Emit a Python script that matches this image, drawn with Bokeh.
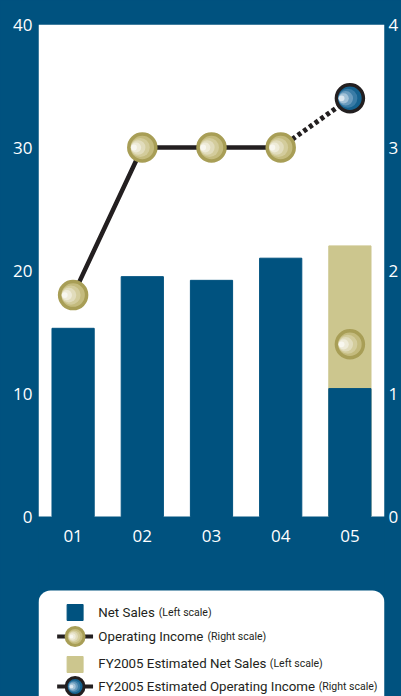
from bokeh.plotting import figure
from bokeh.models import Range1d, LinearAxis, FixedTicker, BoxAnnotation
from bokeh.core.properties import value
from bokeh.embed import file_html
from bokeh.resources import INLINE

# ---- data ----
years = ["01", "02", "03", "04", "05"]
net_sales = [15.3, 19.5, 19.2, 21.0, 10.4]          # left scale
est_year = ["05"]
est_net_sales = [22.0]                              # left scale
op_income = [1.8, 3.0, 3.0, 3.0, 1.4]               # right scale
est_op_income = [3.4]                               # right scale
left_ticks = [0, 10, 20, 30, 40]
right_ticks = [0, 1, 2, 3, 4]
legend_labels = ["Net Sales", "Operating Income",
                 "FY2005 Estimated Net Sales", "FY2005 Estimated Operating Income"]
legend_scales = ["(Left scale)", "(Right scale)", "(Left scale)", "(Right scale)"]

BLUE = "#00527f"
TAN = "#ccc68e"
OLIVE = "#a89e56"
DARK = "#231f20"
FONT = "Open Sans"
LFONT = "Roboto"

# category positions on a numeric axis (one slot per year)
xs = [i + 0.5 for i in range(len(years))]
pos = dict(zip(years, xs))
est_xs = [pos[y] for y in est_year]

# ---- layout constants (pixels) ----
W, H = 401, 696
TOP, LEFT, RIGHT = 24, 38, 16
ZERO_Y = 516                      # pixel row of the value 0
LEFT_MAX, RIGHT_MAX = 40, 4
px_per_unit = (ZERO_Y - TOP) / LEFT_MAX
left_min = -(H - ZERO_Y) / px_per_unit
right_min = left_min * RIGHT_MAX / LEFT_MAX

p = figure(x_range=Range1d(0, len(years)), y_range=Range1d(left_min, LEFT_MAX),
           width=W, height=H, output_backend="svg", toolbar_location=None,
           min_border_left=LEFT, min_border_right=RIGHT, min_border_top=TOP, min_border_bottom=0,
           background_fill_color=BLUE, border_fill_color=BLUE,
           outline_line_color=None)
p.styles = {"background-color": BLUE}
p.extra_y_ranges = {"right": Range1d(right_min, RIGHT_MAX),
                    "py": Range1d(H, TOP)}
p.extra_x_ranges = {"px": Range1d(LEFT, W - RIGHT)}

p.xgrid.visible = False
p.ygrid.visible = False

# white plotting area above the zero line, and the rounded white legend panel
p.add_layout(BoxAnnotation(bottom=0, fill_color="white", fill_alpha=1, line_color=None,
                           level="underlay"))
p.add_layout(BoxAnnotation(left=LEFT, right=W - RIGHT, top=590, bottom=730,
                           x_range_name="px", y_range_name="py",
                           fill_color="white", fill_alpha=1, line_color=None,
                           border_radius=12, level="underlay"))

# bars
p.vbar(x=est_xs, top=est_net_sales, width=0.61, color=TAN)
p.vbar(x=xs, top=net_sales, width=0.61, color=BLUE)

# operating income line
p.line(x=xs[:4], y=op_income[:4], y_range_name="right", line_width=4.5, color=DARK)
p.line(x=[xs[3], est_xs[0]], y=[op_income[3], est_op_income[0]], y_range_name="right",
       line_width=5, color=DARK, line_dash="4 3", line_cap="butt")

# markers (layered circles imitate the left-to-right gradient fill)
def ball(x, y, edge, colors, xr=None, yr="right", size=27, lw=3.5, step=0.03):
    kw = dict(y_range_name=yr)
    if xr:
        kw["x_range_name"] = xr
    p.scatter(x=x, y=y, size=size, fill_color=colors[0], line_color=edge, line_width=lw, **kw)
    n = len(colors) - 1
    for k, c in enumerate(colors[1:], start=1):
        s = (size - lw) * (1 - k / (n + 1.3))
        p.scatter(x=[v - step * k for v in x], y=y, size=s, fill_color=c,
                  line_color=None, **kw)

TAN_BALL = ["#c4bb7e", "#d3cc9c", "#e1dcbc", "#eeebd8", "#f8f7ef"]
BLUE_BALL = ["#15628f", "#3a7ca6", "#6a9cbe", "#a2c2d8", "#dae7f0"]
ball(xs, op_income, OLIVE, TAN_BALL)
ball(est_xs, est_op_income, DARK, BLUE_BALL)

def style_axis(ax, standoff):
    ax.axis_line_color = None
    ax.major_tick_line_color = None
    ax.minor_tick_line_color = None
    ax.major_tick_out = 0
    ax.major_tick_in = 0
    ax.minor_tick_out = 0
    ax.minor_tick_in = 0
    ax.major_label_text_color = "white"
    ax.major_label_text_font = FONT
    ax.major_label_text_font_size = "17px"
    ax.major_label_standoff = standoff

p.yaxis.ticker = FixedTicker(ticks=left_ticks)
style_axis(p.yaxis[0], 6)
p.xaxis.ticker = FixedTicker(ticks=xs)
p.xaxis.major_label_overrides = {x: y for x, y in zip(xs, years)}
style_axis(p.xaxis[0], 13)
p.xaxis.fixed_location = 0

rax = LinearAxis(y_range_name="right", ticker=FixedTicker(ticks=right_ticks))
style_axis(rax, 4)
p.add_layout(rax, "right")

# ---- legend ----
SYM_X = 74.7
sym_y = [612, 636, 664, 686]
p.scatter(x=[SYM_X], y=[sym_y[0]], x_range_name="px", y_range_name="py",
          marker="square", size=16, color=BLUE)
p.scatter(x=[SYM_X], y=[sym_y[2]], x_range_name="px", y_range_name="py",
          marker="square", size=16, color=TAN)
p.line(x=[56.7, 92.7], y=[sym_y[1]] * 2, x_range_name="px", y_range_name="py",
       line_width=4, color=DARK)
ball([SYM_X], [sym_y[1]], OLIVE, TAN_BALL, xr="px", yr="py", size=18, lw=3, step=0.9)
p.line(x=[56.7, 92.7], y=[sym_y[3]] * 2, x_range_name="px", y_range_name="py",
       line_width=4, color=DARK)
ball([SYM_X], [sym_y[3]], DARK, BLUE_BALL, xr="px", yr="py", size=18, lw=3, step=0.9)

base_y = [612, 636, 663, 686]
p.text(x=[98] * 4, y=base_y, text=legend_labels, x_range_name="px", y_range_name="py",
       text_font=value(LFONT), text_font_size="13.3px", text_baseline="alphabetic",
       text_color=DARK)
p.text(x=[158.5, 207.5, 270, 319], y=base_y, text=legend_scales,
       x_range_name="px", y_range_name="py",
       text_font=value(LFONT), text_font_size="10.5px", text_baseline="alphabetic",
       text_color=DARK)

open("out.html", "w").write(file_html(p, INLINE))
